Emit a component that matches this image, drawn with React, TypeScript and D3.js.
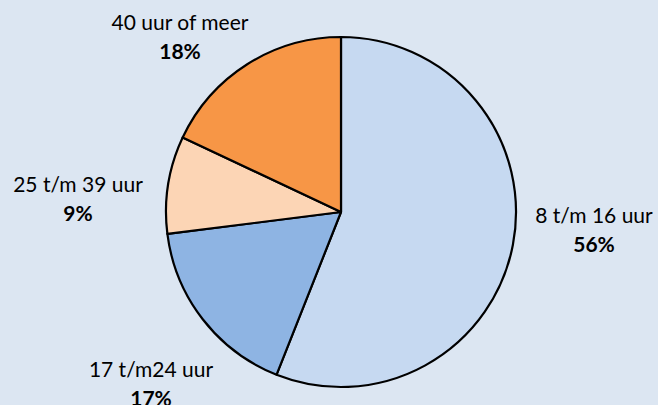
import React from "react";
import * as d3 from "d3";

const categories = ["8 t/m 16 uur", "17 t/m24 uur", "25 t/m 39 uur", "40 uur of meer"];
const values = [56, 17, 9, 18];
const colors = ["#c6d9f1", "#8eb4e3", "#fcd5b5", "#f79646"];
const labelPos: [number, number][] = [
  [594, 223],
  [151, 377],
  [78, 192],
  [180, 30],
];

export default function App() {
  const W = 658, H = 405;
  const cx = 341, cy = 212, r = 175;
  const pie = d3.pie<number>().sort(null).value((d) => d);
  const arcs = pie(values);
  const arc = d3.arc<d3.PieArcDatum<number>>().innerRadius(0).outerRadius(r);
  return (
    <svg width={W} height={H} style={{ position: "absolute", left: 0, top: 0, background: "#dce6f2" }}
      fontFamily="Lato, 'Open Sans', sans-serif">
      <rect width={W} height={H} fill="#dce6f2" />
      <g transform={`translate(${cx},${cy})`}>
        {arcs.map((a, i) => (
          <path key={i} d={arc(a) || ""} fill={colors[i]} stroke="#000" strokeWidth={2.2} strokeLinejoin="round" />
        ))}
      </g>
      {categories.map((c, i) => (
        <g key={c}>
          <text x={labelPos[i][0]} y={labelPos[i][1]} textAnchor="middle" fontSize={21} fill="#000">{c}</text>
          <text x={labelPos[i][0]} y={labelPos[i][1] + 29} textAnchor="middle" fontSize={21} fontWeight="bold" fill="#000">{values[i]}%</text>
        </g>
      ))}
    </svg>
  );
}
